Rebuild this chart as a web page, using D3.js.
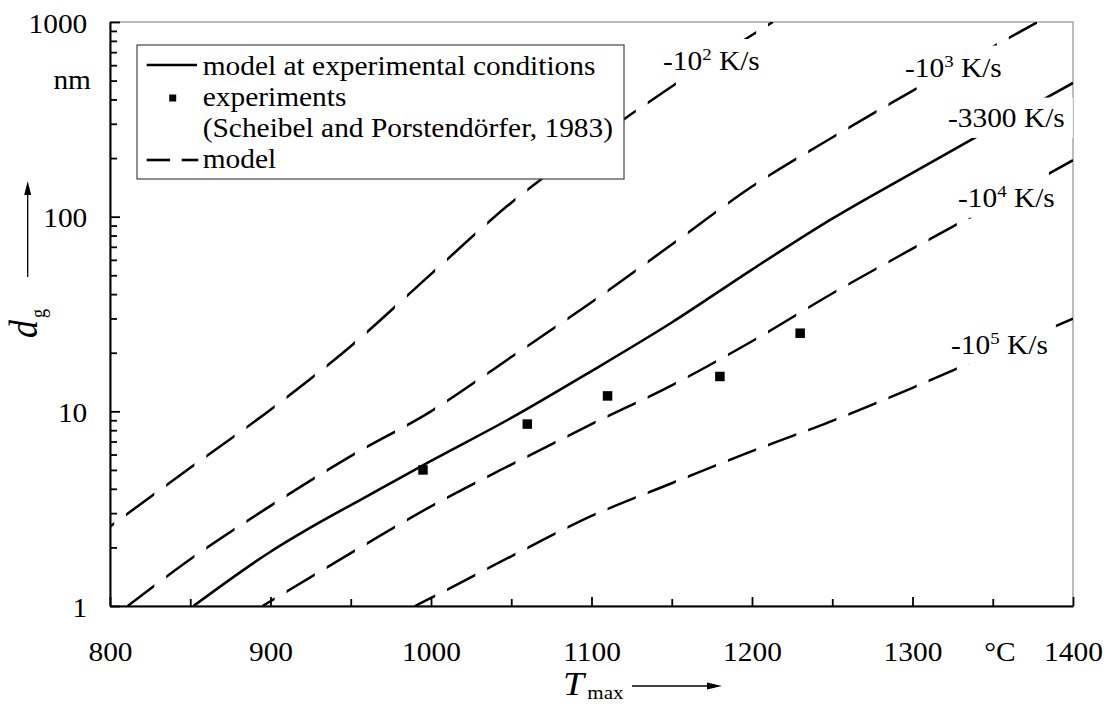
<!DOCTYPE html>
<html><head><meta charset="utf-8">
<script src="https://cdn.jsdelivr.net/npm/d3@7"></script>
<style>
html,body{margin:0;padding:0;background:#fff;}
svg, svg text, svg tspan{font-family:"Liberation Serif","Times New Roman","DejaVu Serif",serif !important;}
</style></head><body>
<svg id="chart" width="1106" height="704" font-family="Liberation Serif"></svg>
<script>
// ---------- data ----------
const tempSolid = [852, 900, 930, 960, 1000, 1050, 1100, 1150, 1200, 1250, 1300, 1350, 1400];
const dSolid    = [1.0, 1.90, 2.67, 3.66, 5.56, 9.25, 16.1, 28.6, 53.5, 97.7, 168, 287, 486];

const temp1e2 = [800, 850, 900, 950, 1000, 1050, 1100, 1150, 1200, 1213];
const d1e2    = [2.56, 5.13, 10.2, 21.6, 50.7, 118, 241, 466, 857, 1000];

const temp1e3 = [811, 850, 900, 950, 1000, 1050, 1100, 1150, 1200, 1250, 1300, 1350, 1378];
const d1e3    = [1.0, 1.74, 3.27, 5.89, 10.0, 19.0, 36.3, 71.9, 143, 255, 443, 745, 1000];

const temp1e4 = [895, 950, 1000, 1050, 1100, 1150, 1200, 1250, 1300, 1350, 1400];
const d1e4    = [1.0, 1.87, 3.25, 5.33, 8.59, 13.6, 22.9, 40.3, 68.5, 115, 195];

const temp1e5 = [990, 1000, 1050, 1100, 1150, 1200, 1250, 1300, 1350, 1400];
const d1e5    = [1.0, 1.10, 1.80, 2.90, 4.27, 6.24, 8.93, 13.2, 19.9, 29.9];

const tempExp = [995, 1060, 1110, 1180, 1230];
const dExp    = [5.0, 8.6, 12.0, 15.1, 25.2];

const xTickValues = [800, 900, 1000, 1100, 1200, 1300, 1400];
const xMinorValues = [850, 950, 1050, 1150, 1250, 1350];
const yTickValues = [1, 10, 100, 1000];
const yMinorValues = [2,3,4,5,6,7,8,9,20,30,40,50,60,70,80,90,200,300,400,500,600,700,800,900];

const legendLabels = ["model at experimental conditions", "experiments", "(Scheibel and Porstendörfer, 1983)", "model"];

// curve labels: [base, exponent, suffix, T, d] (anchor in data coordinates)
const curveLabels = [
  ["-10", "2", " K/s", 1144.5, 566],
  ["-10", "3", " K/s", 1295.3, 524],
  ["-3300", "", " K/s", 1322.1, 288],
  ["-10", "4", " K/s", 1328.3, 112],
  ["-10", "5", " K/s", 1324.0, 19.7]
];

// ---------- setup ----------
const FONT = '"Liberation Serif","Times New Roman","DejaVu Serif",serif';
const SX = 1.11, FS = 26.5;
const svg = d3.select("#chart");
const x = d3.scaleLinear().domain([800, 1400]).range([110, 1073]);
const y = d3.scaleLog().domain([1, 1000]).range([606, 22]);
const [X0, X1] = x.range(), [Y1, Y0] = y.range();

const defs = svg.append("defs");
defs.append("clipPath").attr("id", "plotClip").append("rect")
  .attr("x", X0).attr("y", Y0).attr("width", X1 - X0).attr("height", Y1 - Y0);

// dash strips (dashes periodic in x like the original)
const strip = defs.append("clipPath").attr("id", "dashClip");
for (let t = 780; t < 1400; t += 25) {
  const a = Math.max(x(t + 5), X0), b = Math.min(x(t + 5 + 17.6), X1);
  if (b > a) strip.append("rect").attr("x", a).attr("y", Y0).attr("width", b - a).attr("height", Y1 - Y0);
}

// frame
svg.append("rect").attr("x", X0).attr("y", Y0).attr("width", X1 - X0).attr("height", Y1 - Y0)
  .attr("fill", "none").attr("stroke", "#8f8f8f").attr("stroke-width", 1.2);

const line = d3.line().x(d => x(d[0])).y(d => y(d[1])).curve(d3.curveMonotoneX);
const zip = (a, b) => a.map((v, i) => [v, b[i]]);

const curves = svg.append("g").attr("clip-path", "url(#plotClip)");
const dashed = curves.append("g").attr("clip-path", "url(#dashClip)");
[[temp1e2, d1e2], [temp1e3, d1e3], [temp1e4, d1e4], [temp1e5, d1e5]].forEach(([t, d]) => {
  dashed.append("path").attr("d", line(zip(t, d))).attr("fill", "none")
    .attr("stroke", "#000").attr("stroke-width", 2.5);
});
curves.append("path").attr("d", line(zip(tempSolid, dSolid))).attr("fill", "none")
  .attr("stroke", "#000").attr("stroke-width", 2.6);

// experiments
svg.append("g").selectAll("rect").data(zip(tempExp, dExp)).join("rect")
  .attr("x", d => x(d[0]) - 4.75).attr("y", d => y(d[1]) - 4.75)
  .attr("width", 9.5).attr("height", 9.5).attr("fill", "#000");

// ---------- axes ----------
function styleAxis(g) {
  g.attr("font-family", FONT);
  g.select(".domain").attr("stroke", "#000").attr("stroke-width", 2);
  g.selectAll(".tick line").attr("stroke", "#000").attr("stroke-width", 1.8);
}
const gx = svg.append("g").attr("transform", `translate(0,${Y1})`)
  .call(d3.axisBottom(x).tickValues(xTickValues).tickSize(-9).tickSizeOuter(0).tickFormat(d3.format("d")));
styleAxis(gx);
gx.selectAll(".tick text").attr("y", 0).attr("dy", null)
  .attr("transform", `translate(0,55) scale(${SX},1)`).attr("font-size", FS)
  .style("font-family", FONT).attr("fill", "#000");
const gxm = svg.append("g").attr("transform", `translate(0,${Y1})`)
  .call(d3.axisBottom(x).tickValues(xMinorValues).tickSize(-7).tickSizeOuter(0).tickFormat(""));
gxm.select(".domain").remove();
gxm.selectAll(".tick line").attr("stroke", "#000").attr("stroke-width", 1.8);

const gy = svg.append("g").attr("transform", `translate(${X0},0)`)
  .call(d3.axisLeft(y).tickValues(yTickValues).tickSize(-10).tickSizeOuter(0).tickFormat(d3.format("d")));
styleAxis(gy);
gy.selectAll(".tick text").attr("x", 0).attr("dy", "0.34em")
  .attr("transform", `translate(-22.7,1) scale(${SX},1)`).attr("font-size", FS)
  .style("font-family", FONT).attr("fill", "#000");
const gym = svg.append("g").attr("transform", `translate(${X0},0)`)
  .call(d3.axisLeft(y).tickValues(yMinorValues).tickSize(-7).tickSizeOuter(0).tickFormat(""));
gym.select(".domain").remove();
gym.selectAll(".tick line").attr("stroke", "#000").attr("stroke-width", 1.8);

function stext(parent, px, py, anchor, size) {
  return parent.append("g").attr("transform", `translate(${px},${py})`)
    .append("text").attr("transform", `scale(${SX},1)`).attr("text-anchor", anchor)
    .attr("font-size", size).style("font-family", FONT).attr("fill", "#000");
}

// units
stext(svg, 91, 89, "end", FS).text("nm");
stext(svg, 1000, Y1 + 55, "middle", FS).text("°C");

// x axis title
const xt = stext(svg, 563, 695, "start", 34);
xt.append("tspan").attr("font-style", "italic").text("T");
xt.append("tspan").attr("font-size", 19).attr("dx", 3).attr("dy", 4).text("max");
svg.append("line").attr("x1", 632).attr("x2", 708).attr("y1", 686).attr("y2", 686).attr("stroke", "#000").attr("stroke-width", 1.3);
svg.append("path").attr("d", "M722,686 L707,682.5 L707,689.5 Z").attr("fill", "#000");

// y axis title (rotated)
const yt = svg.append("text").attr("transform", `translate(37,338) scale(${SX},1) rotate(-90)`)
  .attr("font-size", 36).style("font-family", FONT).attr("fill", "#000");
yt.append("tspan").attr("font-style", "italic").text("d");
yt.append("tspan").attr("font-size", 18).attr("dx", 2).attr("dy", 7).text("g");
svg.append("line").attr("x1", 27.7).attr("x2", 27.7).attr("y1", 277).attr("y2", 194).attr("stroke", "#000").attr("stroke-width", 1.3);
svg.append("path").attr("d", "M27.7,181 L24.2,195 L31.2,195 Z").attr("fill", "#000");

// ---------- curve labels ----------
curveLabels.forEach(([base, sup, suf, t, d]) => {
  const g = svg.append("g").attr("transform", `translate(${x(t)},${y(d)})`);
  const bg = g.append("rect").attr("fill", "#fff");
  const tx = g.append("text").attr("transform", `scale(${SX},1)`).attr("font-size", FS)
    .style("font-family", FONT).attr("fill", "#000");
  tx.append("tspan").text(base);
  if (sup) {
    tx.append("tspan").attr("font-size", 17).attr("dy", -10).text(sup);
    tx.append("tspan").attr("dy", 10).text(suf);
  } else {
    tx.append("tspan").text(suf);
  }
  const bb = g.node().getBBox();
  bg.attr("x", bb.x - 8).attr("y", bb.y - 6).attr("width", bb.width + 16).attr("height", bb.height + 11);
});

// ---------- legend ----------
const lg = svg.append("g");
lg.append("rect").attr("x", 137).attr("y", 45).attr("width", 487).attr("height", 134)
  .attr("fill", "#fff").attr("stroke", "#444").attr("stroke-width", 1.2);
const base = [75, 106, 137, 168];
legendLabels.forEach((s, i) => stext(lg, 202.7, base[i], "start", FS).text(s));
lg.append("line").attr("x1", 146.7).attr("x2", 197).attr("y1", base[0] - 10).attr("y2", base[0] - 10)
  .attr("stroke", "#000").attr("stroke-width", 2.6);
lg.append("rect").attr("x", 172.7 - 3.5).attr("y", base[1] - 8 - 3.5).attr("width", 7).attr("height", 7).attr("fill", "#000");
lg.append("line").attr("x1", 146.7).attr("x2", 170).attr("y1", base[3] - 8).attr("y2", base[3] - 8)
  .attr("stroke", "#000").attr("stroke-width", 2.6);
lg.append("line").attr("x1", 181.7).attr("x2", 198.3).attr("y1", base[3] - 8).attr("y2", base[3] - 8)
  .attr("stroke", "#000").attr("stroke-width", 2.6);
</script>
</body></html>
